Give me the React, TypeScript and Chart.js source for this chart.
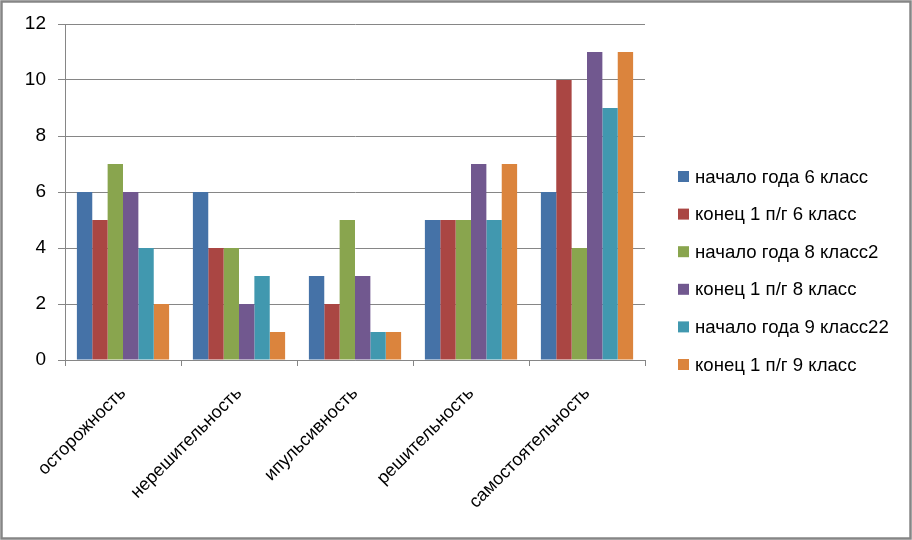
import React, { useEffect, useRef } from "react";
import { Chart, registerables } from "chart.js";

Chart.register(...registerables);

const categories = ["осторожность", "нерешительность", "ипульсивность", "решительность", "самостоятельность"];
const seriesNames = [
  "начало года 6 класс",
  "конец 1 п/г 6 класс",
  "начало года 8 класс2",
  "конец 1 п/г 8 класс",
  "начало года 9 класс22",
  "конец 1 п/г 9 класс",
];
const start6 = [6, 6, 3, 5, 6];
const end6 = [5, 4, 2, 5, 10];
const start8 = [7, 4, 5, 5, 4];
const end8 = [6, 2, 3, 7, 11];
const start9 = [4, 3, 1, 5, 9];
const end9 = [2, 1, 1, 7, 11];
const seriesValues = [start6, end6, start8, end8, start9, end9];
const colors = ["#4572A7", "#AA4643", "#89A54E", "#71588F", "#4198AF", "#DB843D"];

const FONT = "'Liberation Sans', Arial, sans-serif";

const frameAndLegend = {
  id: "frameAndLegend",
  beforeDraw(chart: any) {
    const { ctx, width, height } = chart;
    ctx.save();
    ctx.fillStyle = "#ffffff";
    ctx.fillRect(0, 0, width, height);
    ctx.restore();
  },
  afterDraw(chart: any) {
    const { ctx, width, height } = chart;
    ctx.save();
    ctx.strokeStyle = "#868686";
    ctx.lineWidth = 2.5;
    ctx.strokeRect(1.5, 1.5, width - 3, height - 3);
    const ds = chart.data.datasets;
    const step = 37.6;
    const cy = height / 2 + 0.5;
    const boxX = 678;
    ctx.font = "18.6px " + FONT;
    ctx.textBaseline = "middle";
    ctx.textAlign = "left";
    ds.forEach((d: any, i: number) => {
      const y = cy + (i - (ds.length - 1) / 2) * step;
      ctx.fillStyle = d.backgroundColor;
      ctx.fillRect(boxX, y - 5.5, 11, 11);
      ctx.fillStyle = "#000000";
      ctx.fillText(d.label, boxX + 17, y + 1);
    });
    ctx.restore();
  },
};

export default function App() {
  const ref = useRef<HTMLCanvasElement>(null);
  useEffect(() => {
    if (!ref.current) return;
    const chart = new Chart(ref.current, {
      type: "bar",
      data: {
        labels: categories,
        datasets: seriesValues.map((vals, i) => ({
          label: seriesNames[i],
          data: vals,
          backgroundColor: colors[i],
          borderWidth: 0,
          barPercentage: 1,
          categoryPercentage: 0.795,
        })),
      },
      options: {
        animation: false,
        responsive: false,
        devicePixelRatio: 1,
        layout: { padding: { top: 24, right: 267, left: 0, bottom: 0 } },
        plugins: { legend: { display: false }, tooltip: { enabled: false } },
        scales: {
          x: {
            grid: {
              drawOnChartArea: false,
              drawTicks: true,
              tickLength: 6,
              color: "#868686",
              offset: true,
            },
            border: { color: "#868686" },
            ticks: {
              color: "#000000",
              font: { family: FONT, size: 18 },
              minRotation: 45,
              maxRotation: 45,
              padding: 17,
              autoSkip: false,
            },
            afterFit(scale: any) {
              scale.height = 180;
            },
          },
          y: {
            min: 0,
            max: 12,
            ticks: {
              stepSize: 2,
              color: "#000000",
              font: { family: FONT, size: 19 },
              padding: 12,
            },
            grid: { color: "#868686", tickLength: 7 },
            border: { color: "#868686" },
            afterFit(scale: any) {
              scale.width = 65;
            },
          },
        },
      },
      plugins: [frameAndLegend],
    });
    return () => chart.destroy();
  }, []);
  return (
    <div style={{ position: "fixed", left: 0, top: 0, width: 912, height: 540 }}>
      <canvas ref={ref} width={912} height={540} style={{ display: "block" }} />
    </div>
  );
}
